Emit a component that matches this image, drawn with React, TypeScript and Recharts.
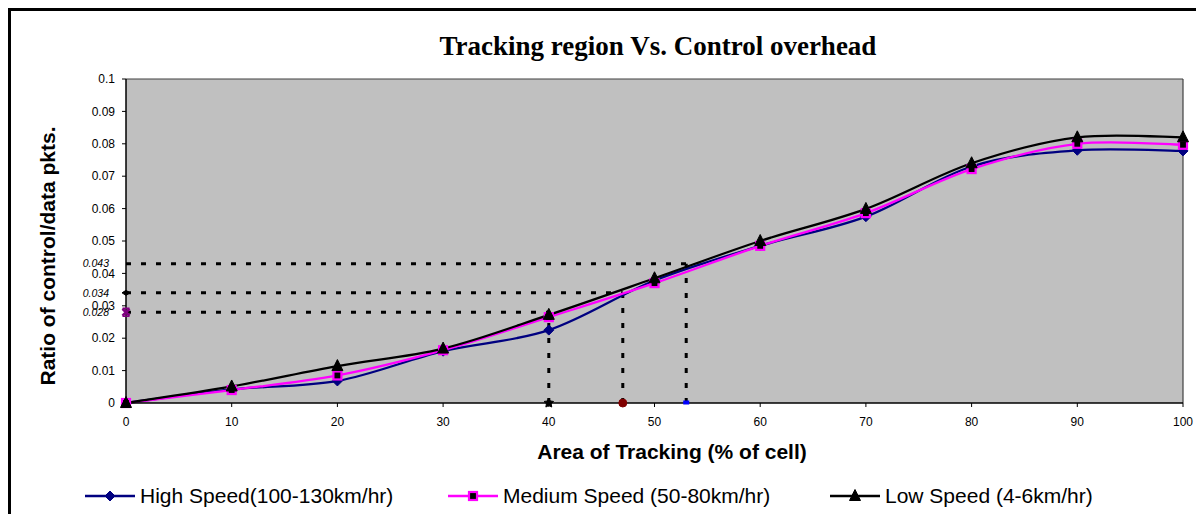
import React from 'react';
import { LineChart, Line, XAxis, YAxis, CartesianGrid, ReferenceLine, ReferenceDot, Legend } from 'recharts';

// ---- data ----
const areaPct = [0, 10, 20, 30, 40, 50, 60, 70, 80, 90, 100];
const highSpeed = [0, 0.0042, 0.0068, 0.016, 0.0225, 0.0378, 0.0485, 0.0575, 0.073, 0.078, 0.0778];
const mediumSpeed = [0, 0.004, 0.0085, 0.0163, 0.0265, 0.037, 0.0485, 0.0586, 0.0722, 0.08, 0.0797];
const lowSpeed = [0, 0.0051, 0.0114, 0.0168, 0.0272, 0.0385, 0.05, 0.0599, 0.074, 0.082, 0.082];
const seriesNames = ['High Speed(100-130km/hr)', 'Medium Speed (50-80km/hr)', 'Low Speed (4-6km/hr)'];
const xTicks = [0, 10, 20, 30, 40, 50, 60, 70, 80, 90, 100];
const yTicks = [0, 0.01, 0.02, 0.03, 0.04, 0.05, 0.06, 0.07, 0.08, 0.09, 0.1];
const yTickLabels = ['0', '0.01', '0.02', '0.03', '0.04', '0.05', '0.06', '0.07', '0.08', '0.09', '0.1'];
const markAreas = [40, 47, 53];
const markRatios = [0.028, 0.034, 0.043];
const markLabels = ['0.028', '0.034', '0.043'];
const titleText = 'Tracking region Vs. Control overhead';
const xTitle = 'Area of Tracking (% of cell)';
const yTitle = 'Ratio of control/data pkts.';

const data = areaPct.map((x, i) => ({ x, high: highSpeed[i], medium: mediumSpeed[i], low: lowSpeed[i] }));

const SANS = '"Liberation Sans", Arial, sans-serif';
const SERIF = '"Liberation Serif", "Times New Roman", serif';
const NAVY = '#000080';
const MAGENTA = '#FF00FF';
const BLACK = '#000000';

// Excel-like smoothed line (Catmull-Rom as cubic Bezier)
const excelSmooth = (context: any) => {
  let pts: number[][] = [];
  return {
    areaStart() {},
    areaEnd() {},
    lineStart() {
      pts = [];
    },
    point(x: number, y: number) {
      pts.push([+x, +y]);
    },
    lineEnd() {
      const n = pts.length;
      if (n === 0) return;
      context.moveTo(pts[0][0], pts[0][1]);
      for (let i = 0; i < n - 1; i++) {
        const p0 = pts[Math.max(i - 1, 0)];
        const p1 = pts[i];
        const p2 = pts[i + 1];
        const p3 = pts[Math.min(i + 2, n - 1)];
        context.bezierCurveTo(
          p1[0] + (p2[0] - p0[0]) / 6,
          p1[1] + (p2[1] - p0[1]) / 6,
          p2[0] - (p3[0] - p1[0]) / 6,
          p2[1] - (p3[1] - p1[1]) / 6,
          p2[0],
          p2[1]
        );
      }
    },
  };
};

const Diamond = ({ cx, cy, s = 5 }: any) => (
  <path d={`M${cx},${cy - s}L${cx + s},${cy}L${cx},${cy + s}L${cx - s},${cy}Z`} fill={NAVY} stroke={NAVY} strokeWidth={1} />
);
const Square = ({ cx, cy, s = 4 }: any) => (
  <rect x={cx - s} y={cy - s} width={2 * s} height={2 * s} fill={BLACK} stroke={MAGENTA} strokeWidth={2.2} />
);
const Triangle = ({ cx, cy, s = 5.5 }: any) => (
  <path d={`M${cx},${cy - s - 1}L${cx + s},${cy + s - 1}L${cx - s},${cy + s - 1}Z`} fill={BLACK} stroke={BLACK} strokeWidth={1} />
);

const dotDiamond = (p: any) => <Diamond key={`d${p.index}`} cx={p.cx} cy={p.cy} />;
const dotSquare = (p: any) => <Square key={`s${p.index}`} cx={p.cx} cy={p.cy} />;
const dotTriangle = (p: any) => <Triangle key={`t${p.index}`} cx={p.cx} cy={p.cy} />;

const starPath = (cx: number, cy: number, R: number, r: number) => {
  let d = '';
  for (let i = 0; i < 10; i++) {
    const rad = i % 2 === 0 ? R : r;
    const a = -Math.PI / 2 + (i * Math.PI) / 5;
    d += `${i === 0 ? 'M' : 'L'}${cx + rad * Math.cos(a)},${cy + rad * Math.sin(a)}`;
  }
  return d + 'Z';
};

const renderLegend = () => {
  const icons = [
    (x: number) => <Diamond cx={x} cy={12} />,
    (x: number) => <Square cx={x} cy={12} />,
    (x: number) => <Triangle cx={x} cy={12} />,
  ];
  const colors = [NAVY, MAGENTA, BLACK];
  const lefts = [0, 363, 745];
  return (
    <div style={{ position: 'relative', width: 1100, height: 26 }}>
      {seriesNames.map((name, i) => (
        <div key={name} style={{ position: 'absolute', left: lefts[i], top: 0, display: 'flex', alignItems: 'center', height: 26 }}>
          <svg width={50} height={24} style={{ display: 'block' }}>
            <line x1={0} y1={12} x2={50} y2={12} stroke={colors[i]} strokeWidth={2.5} />
            {icons[i](25)}
          </svg>
          <span style={{ marginLeft: 5, fontFamily: SANS, fontSize: 21, color: '#000', whiteSpace: 'nowrap', lineHeight: '26px' }}>{name}</span>
        </div>
      ))}
    </div>
  );
};

export default function App() {
  return (
    <>
      <style>{'html, body { overflow: hidden; }'}</style>
      <div
        style={{
          position: 'fixed',
          left: 8,
          top: 8,
          width: 1185,
          height: 503,
          overflow: 'hidden',
          borderTop: '3px solid #000',
          borderLeft: '3px solid #000',
          background: '#fff',
        }}
      >
        <LineChart width={1185} height={503} data={data} margin={{ top: 68, right: 13, bottom: 81, left: 55 }}>
          <CartesianGrid horizontal={false} vertical={false} fill="#C0C0C0" fillOpacity={1} />
          <XAxis
            dataKey="x"
            type="number"
            domain={[0, 100]}
            ticks={xTicks}
            interval={0}
            height={30}
            tickSize={4}
            tickMargin={10}
            axisLine={{ stroke: '#000', strokeWidth: 1.5 }}
            tickLine={{ stroke: '#000' }}
            tick={{ fill: '#000', fontSize: 12, fontFamily: SANS }}
          />
          <YAxis
            type="number"
            domain={[0, 0.1]}
            ticks={yTicks}
            interval={0}
            width={60}
            tickSize={4}
            tickMargin={7}
            tickFormatter={(v: number, i: number) => yTickLabels[i] ?? String(v)}
            axisLine={{ stroke: '#000', strokeWidth: 1.5 }}
            tickLine={{ stroke: '#000' }}
            tick={{ fill: '#000', fontSize: 12, fontFamily: SANS }}
          />
          <ReferenceLine y={0.1} stroke="#404040" strokeWidth={1.2} />
          <ReferenceLine x={100} stroke="#404040" strokeWidth={1.2} />

          {markRatios.map((r, i) => (
            <ReferenceLine
              key={`h${i}`}
              segment={[{ x: 0, y: r }, { x: markAreas[i], y: r }]}
              stroke="#000"
              strokeWidth={3}
              strokeDasharray="5 10"
              ifOverflow="visible"
              label={{
                value: markLabels[i],
                position: 'left',
                offset: 17,
                fill: '#000',
                fontSize: 10.5,
                fontStyle: 'italic',
                fontFamily: SANS,
              }}
            />
          ))}
          {markRatios.map((r, i) => (
            <ReferenceLine
              key={`v${i}`}
              segment={[{ x: markAreas[i], y: 0 }, { x: markAreas[i], y: r }]}
              stroke="#000"
              strokeWidth={3}
              strokeDasharray="5 10"
              ifOverflow="visible"
            />
          ))}

          <Line
            dataKey="high"
            name={seriesNames[0]}
            type={excelSmooth as any}
            stroke={NAVY}
            strokeWidth={2.3}
            dot={dotDiamond}
            activeDot={false}
            isAnimationActive={false}
          />
          <Line
            dataKey="medium"
            name={seriesNames[1]}
            type={excelSmooth as any}
            stroke={MAGENTA}
            strokeWidth={2.3}
            dot={dotSquare}
            activeDot={false}
            isAnimationActive={false}
          />
          <Line
            dataKey="low"
            name={seriesNames[2]}
            type={excelSmooth as any}
            stroke={BLACK}
            strokeWidth={2.3}
            dot={dotTriangle}
            activeDot={false}
            isAnimationActive={false}
          />

          {/* markers on the axes */}
          <ReferenceDot
            x={0}
            y={markRatios[0]}
            ifOverflow="visible"
            shape={(p: any) => (
              <g>
                <path d={`M${p.cx - 3.5},${p.cy - 3.5}L${p.cx + 3.5},${p.cy + 3.5}M${p.cx + 3.5},${p.cy - 3.5}L${p.cx - 3.5},${p.cy + 3.5}`} stroke="#800080" strokeWidth={2.6} />
                <path d={`M${p.cx - 3.5},${p.cy - 4}L${p.cx + 3.5},${p.cy - 4}M${p.cx - 3.5},${p.cy + 4}L${p.cx + 3.5},${p.cy + 4}`} stroke="#800080" strokeWidth={1.5} />
              </g>
            )}
          />
          <ReferenceDot
            x={0}
            y={markRatios[1]}
            ifOverflow="visible"
            shape={(p: any) => (
              <path d={`M${p.cx - 4},${p.cy}L${p.cx},${p.cy - 2.5}L${p.cx + 4},${p.cy}L${p.cx},${p.cy + 2.5}Z`} fill="#000" stroke="#000" strokeWidth={1} />
            )}
          />
          <ReferenceDot
            x={markAreas[0]}
            y={0}
            ifOverflow="visible"
            shape={(p: any) => <path d={starPath(p.cx, p.cy, 5, 2.5)} fill="#000" stroke="#000" strokeWidth={1} />}
          />
          <ReferenceDot
            x={markAreas[1]}
            y={0}
            ifOverflow="visible"
            shape={(p: any) => <circle cx={p.cx} cy={p.cy} r={4} fill="#800000" stroke="#800000" />}
          />
          <ReferenceDot
            x={markAreas[2]}
            y={0}
            ifOverflow="visible"
            shape={(p: any) => <rect x={p.cx - 3} y={p.cy - 2.5} width={6} height={4} fill="#0000FF" />}
          />

          <Legend
            verticalAlign="middle"
            layout="horizontal"
            content={renderLegend}
            wrapperStyle={{ left: 74, top: 472, width: 1100, height: 26 }}
          />
        </LineChart>

        <div
          style={{
            position: 'absolute',
            left: 647,
            top: 35,
            transform: 'translate(-50%, -50%)',
            fontFamily: SERIF,
            fontWeight: 'bold',
            fontSize: 27,
            whiteSpace: 'nowrap',
            color: '#000',
          }}
        >
          {titleText}
        </div>
        <div
          style={{
            position: 'absolute',
            left: 661,
            top: 441,
            transform: 'translate(-50%, -50%)',
            fontFamily: SANS,
            fontWeight: 'bold',
            fontSize: 21,
            whiteSpace: 'nowrap',
            color: '#000',
          }}
        >
          {xTitle}
        </div>
        <div
          style={{
            position: 'absolute',
            left: 37,
            top: 245,
            transform: 'translate(-50%, -50%) rotate(-90deg)',
            fontFamily: SANS,
            fontWeight: 'bold',
            fontSize: 21,
            whiteSpace: 'nowrap',
            color: '#000',
          }}
        >
          {yTitle}
        </div>
      </div>
    </>
  );
}
